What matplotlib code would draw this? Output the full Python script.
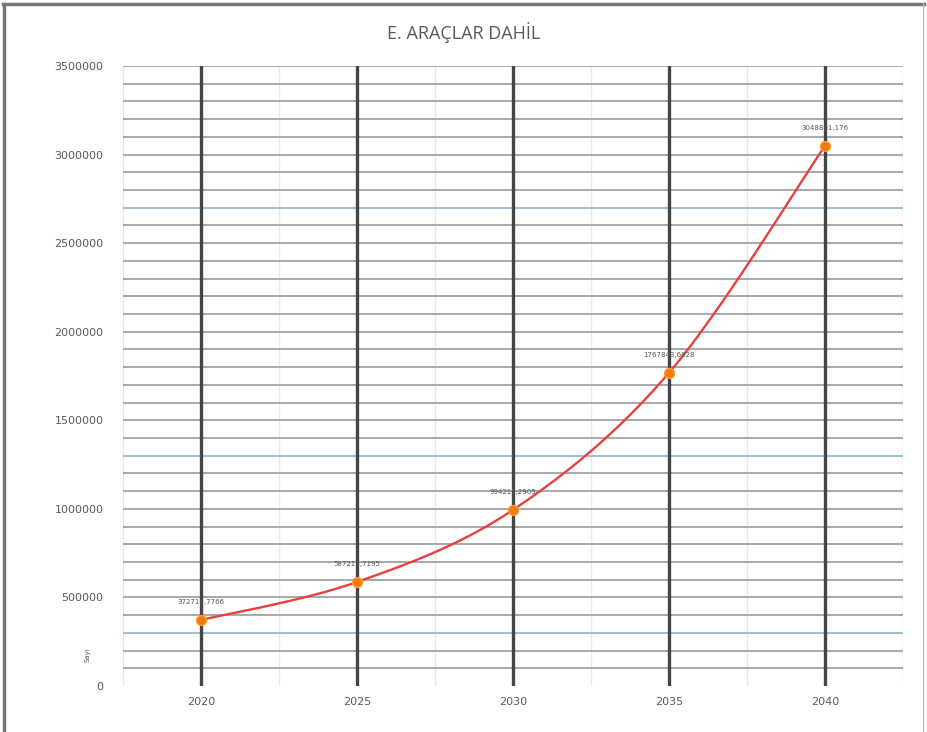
import matplotlib
matplotlib.use("Agg")
import matplotlib.pyplot as plt
import numpy as np

years = [2020, 2025, 2030, 2035, 2040]
values = [372713.7766, 587213.7195, 994215.2905, 1767843.6028, 3048801.176]
labels = ["372713,7766", "587213,7195", "994215,2905", "1767843,6028", "3048801,176"]
title = "E. ARAÇLAR DAHİL"
yticks = [0, 500000, 1000000, 1500000, 2000000, 2500000, 3000000, 3500000]

def smooth(xs, ys, n=30):
    # Catmull-Rom style smoothing, similar to a spreadsheet "smoothed line"
    xs = np.asarray(xs, float); ys = np.asarray(ys, float)
    px = np.concatenate([[xs[0]], xs, [xs[-1]]])
    py = np.concatenate([[ys[0]], ys, [ys[-1]]])
    ox, oy = [], []
    t = np.linspace(0, 1, n)
    for i in range(1, len(px) - 2):
        for P, out in ((px, ox), (py, oy)):
            p0, p1, p2, p3 = P[i - 1], P[i], P[i + 1], P[i + 2]
            seg = 0.5 * ((2 * p1) + (-p0 + p2) * t + (2 * p0 - 5 * p1 + 4 * p2 - p3) * t ** 2
                         + (-p0 + 3 * p1 - 3 * p2 + p3) * t ** 3)
            out.extend(seg)
    return np.array(ox), np.array(oy)

fig = plt.figure(figsize=(9.27, 7.32), dpi=100)
fig.patch.set_facecolor("white")
ax = fig.add_axes([0.1327, 0.0628, 0.8413, 0.847])

ax.set_xlim(2017.5, 2042.5)
ax.set_ylim(0, 3500000)

blue_set = {300000, 1300000, 2700000}
for v in range(100000, 3500001, 100000):
    c = "#9dbcd4" if v in blue_set else "#a8a8a8"
    ax.axhline(v, color=c, lw=1.4, zorder=1)
for x in np.arange(2017.5, 2043, 2.5):
    ax.axvline(x, color="#e3e9ef", lw=1.0, zorder=0.5)
for x in years:
    ax.axvline(x, color="#454545", lw=2.4, zorder=2)

sx, sy = smooth(years, values)
ax.plot(sx, sy, color="#e8403f", lw=1.7, zorder=3)
ax.scatter(years, values, color="#f07a10", s=50, zorder=4, edgecolors="#ff9a20")
for x, v, l in zip(years, values, labels):
    ax.annotate(l, (x, v), xytext=(0, 11), textcoords="offset points",
                ha="center", va="bottom", fontsize=5, color="#555555", zorder=5)

ax.set_yticks(yticks)
ax.set_yticklabels([str(t) for t in yticks])
ax.set_xticks(years)
ax.set_xticklabels([str(y) for y in years])
ax.tick_params(axis="both", length=0, labelsize=8, colors="#595959")
ax.tick_params(axis="y", pad=14)
ax.tick_params(axis="x", pad=8)
for s in ax.spines.values():
    s.set_visible(False)

ax.text(-0.045, 0.05, "Sayı", transform=ax.transAxes, rotation=90, fontsize=5,
        color="#595959", ha="center", va="center")

fig.text(0.5, 0.955, title, ha="center", va="center", fontsize=13,
         color="#595959", family="Open Sans")

fig.add_artist(plt.Line2D([0.003, 0.997], [0.994, 0.994], color="#777777", lw=2.5, transform=fig.transFigure))
fig.add_artist(plt.Line2D([0.004, 0.004], [0.0, 0.994], color="#777777", lw=2.5, transform=fig.transFigure))
fig.add_artist(plt.Line2D([0.996, 0.996], [0.0, 0.994], color="#bbbbbb", lw=1, transform=fig.transFigure))

fig.savefig("out.png", dpi=100, facecolor="white")
